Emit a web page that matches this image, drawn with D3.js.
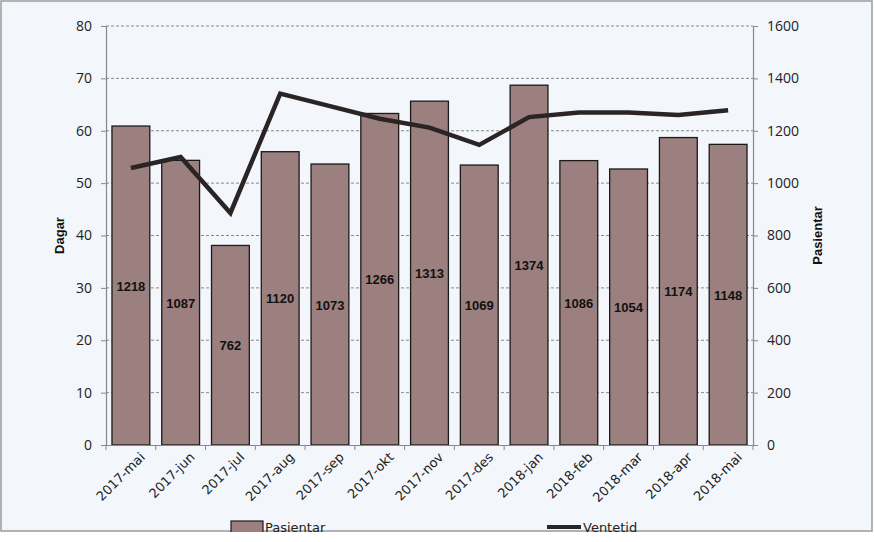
<!DOCTYPE html>
<html><head><meta charset="utf-8">
<script src="https://cdn.jsdelivr.net/npm/d3@7"></script>
<style>
html,body{margin:0;padding:0;background:#fff;}
svg{display:block;}
</style></head>
<body>
<script>
const categories = ["2017-mai","2017-jun","2017-jul","2017-aug","2017-sep","2017-okt","2017-nov","2017-des","2018-jan","2018-feb","2018-mar","2018-apr","2018-mai"];
const pasientar = [1218,1087,762,1120,1073,1266,1313,1069,1374,1086,1054,1174,1148];
const ventetid = [52.9,55.0,44.3,67.1,64.7,62.3,60.6,57.3,62.6,63.5,63.5,63.0,63.9];
const leftTicks = [0,10,20,30,40,50,60,70,80];
const rightTicks = [0,200,400,600,800,1000,1200,1400,1600];

const W = 874, H = 542;
const m = {l:106, r:753, t:26, b:445};
const svg = d3.select("body").append("svg").attr("width",W).attr("height",H);
svg.append("rect").attr("x",0).attr("y",0).attr("width",W).attr("height",H).attr("fill","#fff");
svg.append("rect").attr("x",1).attr("y",1).attr("width",871).attr("height",530)
  .attr("fill","#f3f6fb").attr("stroke","#9a9a9a").attr("stroke-width",1.5);

const x = d3.scaleBand().domain(categories).range([m.l,m.r]).paddingInner(0.24).paddingOuter(0.12);
const yL = d3.scaleLinear().domain([0,80]).range([m.b,m.t]);
const yR = d3.scaleLinear().domain([0,1600]).range([m.b,m.t]);

// grid
svg.append("g").selectAll("line").data(leftTicks.filter(d=>d>0)).join("line")
  .attr("x1",m.l).attr("x2",m.r).attr("y1",d=>yL(d)).attr("y2",d=>yL(d))
  .attr("stroke","#8a8a8a").attr("stroke-width",1).attr("stroke-dasharray","3,2");

// bars
svg.append("g").selectAll("rect").data(pasientar).join("rect")
  .attr("x",(d,i)=>x(categories[i])).attr("width",x.bandwidth())
  .attr("y",d=>yR(d)).attr("height",d=>yR(0)-yR(d))
  .attr("fill","#9c7f7f").attr("stroke","#1a1a1a").attr("stroke-width",1.3);

// bar labels
svg.append("g").selectAll("text").data(pasientar).join("text")
  .attr("x",(d,i)=>x(categories[i])+x.bandwidth()/2)
  .attr("y",d=>(yR(d)+yR(0))/2+5)
  .attr("text-anchor","middle").attr("font-family","Liberation Sans, Arial, sans-serif")
  .attr("font-weight","bold").attr("font-size",13).attr("fill","#111").text(d=>d);

// line
const line = d3.line().x((d,i)=>x(categories[i])+x.bandwidth()/2).y(d=>yL(d));
svg.append("path").datum(ventetid).attr("d",line).attr("fill","none")
  .attr("stroke","#2b2424").attr("stroke-width",4.5).attr("stroke-linejoin","miter");

// axes
const fontAxis = "Open Sans, Liberation Sans, sans-serif";
const gL = svg.append("g").attr("transform",`translate(${m.l},0)`)
  .call(d3.axisLeft(yL).tickValues(leftTicks).tickSize(5).tickPadding(9));
const gR = svg.append("g").attr("transform",`translate(${m.r},0)`)
  .call(d3.axisRight(yR).tickValues(rightTicks).tickFormat(d3.format("d")).tickSize(5).tickPadding(9));
[gL,gR].forEach(g=>{
  g.select(".domain").attr("stroke","#888").attr("stroke-width",1.2);
  g.selectAll(".tick line").attr("stroke","#888");
  g.selectAll("text").attr("font-family",fontAxis).attr("font-size",14).attr("fill","#222");
});

const gX = svg.append("g").attr("transform",`translate(0,${m.b})`)
  .call(d3.axisBottom(x).tickSize(0).tickSizeOuter(0));
gX.select(".domain").attr("stroke","#888").attr("stroke-width",1.2);
gX.selectAll(".tick text").attr("font-family","DejaVu Sans, sans-serif").attr("font-size",13).attr("fill","#222")
  .attr("text-anchor","end").attr("dx","0.1em").attr("dy","0.3em")
  .attr("transform","translate(9,9) rotate(-45)");
// boundary ticks
const bounds = categories.map(c=>x(c)-x.step()*x.paddingInner()/2).concat([m.r]);
svg.append("g").selectAll("line").data(bounds).join("line")
  .attr("x1",d=>d).attr("x2",d=>d).attr("y1",m.b).attr("y2",m.b+5).attr("stroke","#888");

// axis titles
svg.append("text").attr("transform",`translate(64,${(m.t+m.b)/2}) rotate(-90)`)
  .attr("text-anchor","middle").attr("font-family","Liberation Sans, Arial, sans-serif")
  .attr("font-weight","bold").attr("font-size",13).attr("fill","#111").text("Dagar");
svg.append("text").attr("transform",`translate(822,${(m.t+m.b)/2}) rotate(-90)`)
  .attr("text-anchor","middle").attr("font-family","Liberation Sans, Arial, sans-serif")
  .attr("font-weight","bold").attr("font-size",13).attr("fill","#111").text("Pasientar");

// legend
const lg = svg.append("g");
lg.append("rect").attr("x",231).attr("y",521).attr("width",32).attr("height",12)
  .attr("fill","#9c7f7f").attr("stroke","#1a1a1a").attr("stroke-width",1.2);
lg.append("text").attr("x",265).attr("y",532).attr("font-family","DejaVu Sans, sans-serif")
  .attr("font-size",13).attr("fill","#222").text("Pasientar");
lg.append("line").attr("x1",547).attr("x2",581).attr("y1",527).attr("y2",527)
  .attr("stroke","#2b2424").attr("stroke-width",4);
lg.append("text").attr("x",583).attr("y",532).attr("font-family","DejaVu Sans, sans-serif")
  .attr("font-size",13).attr("fill","#222").text("Ventetid");
// cut-off below the chart frame
svg.append("rect").attr("x",0).attr("y",532).attr("width",W).attr("height",H-532).attr("fill","#fff");
</script>
</body></html>
